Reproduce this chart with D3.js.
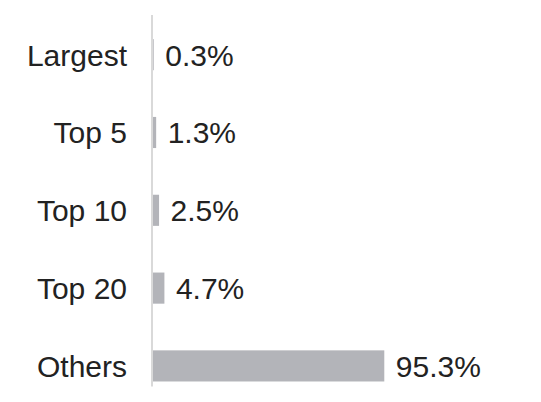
<!DOCTYPE html>
<html>
<head>
<meta charset="utf-8">
<script src="https://cdn.jsdelivr.net/npm/d3@7"></script>
<style>
  html, body { margin: 0; padding: 0; background: #fff; }
  svg { display: block; }
</style>
</head>
<body>
<div id="chart"></div>
<script>
// Share of total held by concentration group (%)
const categories = ["Largest", "Top 5", "Top 10", "Top 20", "Others"];
const shares = [0.3, 1.3, 2.5, 4.7, 95.3];
const valueLabels = ["0.3%", "1.3%", "2.5%", "4.7%", "95.3%"];

const width = 541, height = 402;
const font = "'Liberation Sans', Arial, Helvetica, sans-serif";

const svg = d3.select("#chart").append("svg")
  .attr("width", width)
  .attr("height", height);

const x = d3.scaleLinear().domain([0, 100]).range([153, 395.7]);
const y = d3.scaleBand().domain(categories)
  .range([15, 405.6])
  .paddingInner(0.6)
  .paddingOuter(0.31);

const data = categories.map((c, i) => ({ cat: c, value: shares[i], label: valueLabels[i] }));

// bars
svg.append("g").selectAll("rect").data(data).join("rect")
  .attr("x", x(0))
  .attr("y", d => y(d.cat))
  .attr("width", d => x(d.value) - x(0))
  .attr("height", y.bandwidth())
  .attr("fill", "#b3b4b9");

// vertical baseline
const lastBand = y(categories[categories.length - 1]) + y.bandwidth();
svg.append("line")
  .attr("x1", x(0) - 1).attr("x2", x(0) - 1)
  .attr("y1", y.range()[0]).attr("y2", lastBand + 5)
  .attr("stroke", "#d9d9d9")
  .attr("stroke-width", 2);

// category labels
svg.append("g").selectAll("text").data(data).join("text")
  .attr("x", 127)
  .attr("y", d => y(d.cat) + y.bandwidth() / 2 + 11)
  .attr("text-anchor", "end")
  .attr("font-family", font)
  .attr("font-size", 30)
  .attr("fill", "#222")
  .text(d => d.cat);

// value labels
svg.append("g").selectAll("text").data(data).join("text")
  .attr("x", d => x(d.value) + 11.5)
  .attr("y", d => y(d.cat) + y.bandwidth() / 2 + 11)
  .attr("font-family", font)
  .attr("font-size", 30)
  .attr("fill", "#222")
  .text(d => d.label);
</script>
</body>
</html>
